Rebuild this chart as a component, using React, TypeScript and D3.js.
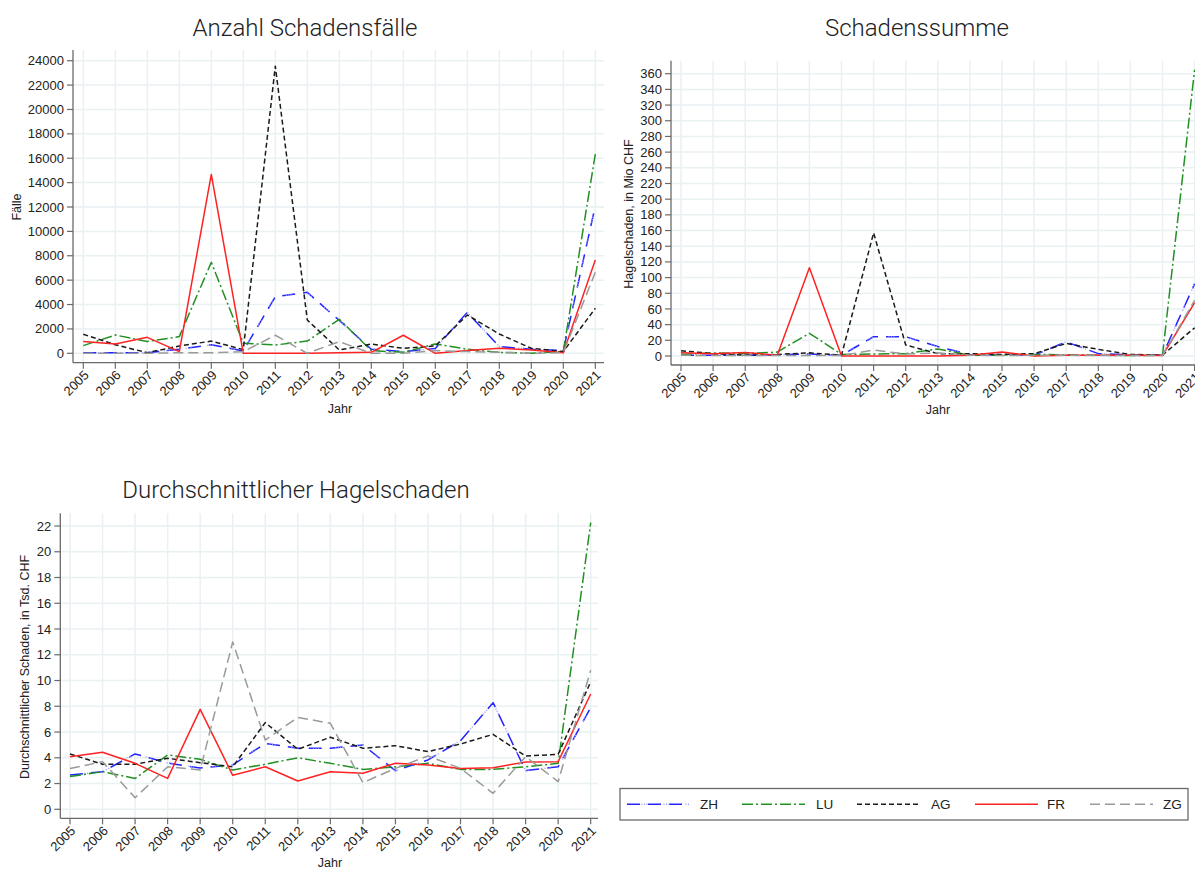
import React from "react";
import * as d3 from "d3";

const years = [2005, 2006, 2007, 2008, 2009, 2010, 2011, 2012, 2013, 2014, 2015, 2016, 2017, 2018, 2019, 2020, 2021];
const cantons = ["ZH", "LU", "AG", "FR", "ZG"];

const faelleZH = [50, 50, 50, 330, 700, 200, 4640, 5000, 2700, 330, 140, 400, 3360, 550, 330, 220, 12100];
const faelleLU = [630, 1500, 960, 1370, 7460, 820, 680, 1000, 2790, 220, 80, 770, 330, 80, 0, 140, 16340];
const faelleAG = [1560, 700, 50, 600, 1000, 300, 23550, 2730, 270, 760, 410, 600, 3140, 1580, 410, 140, 3690];
const faelleFR = [960, 770, 1310, 140, 14670, 0, 0, 0, 50, 80, 1480, 0, 220, 410, 270, 50, 7650];
const faelleZG = [0, 0, 0, 50, 50, 130, 1480, 0, 960, 0, 0, 220, 140, 80, 0, 50, 6640];

const summeZH = [1, 1, 1, 1.5, 2.5, 1, 24.6, 24.6, 12, 2, 1, 1, 18, 3, 1.5, 1, 92];
const summeLU = [2, 4, 3, 5, 29, 2, 2.5, 3, 9, 1, 1, 2, 1.5, 1, 0.5, 1, 365];
const summeAG = [6.8, 3, 1, 2, 4, 1, 157, 14, 3, 3, 2, 3, 16, 8.5, 2, 1, 36];
const summeFR = [4, 3, 4.5, 1, 112.6, 0, 0, 0, 0, 1, 5, 0, 1, 1, 1, 0.5, 68];
const summeZG = [1, 0.5, 0.5, 0.5, 0.5, 0.5, 7.6, 2.5, 4, 1, 0.5, 1, 1, 0.5, 0.5, 0.5, 71];

const avgZH = [2.67, 2.92, 4.3, 3.6, 3.2, 3.45, 5.12, 4.74, 4.74, 5.0, 3.0, 3.83, 5.33, 8.28, 3.0, 3.3, 7.9];
const avgLU = [2.54, 2.92, 2.4, 4.22, 3.88, 3.05, 3.5, 4.0, 3.57, 3.1, 3.3, 3.57, 3.1, 3.1, 3.3, 3.57, 22.26];
const avgAG = [4.3, 3.5, 3.5, 3.96, 3.62, 3.3, 6.73, 4.66, 5.6, 4.74, 4.94, 4.48, 5.07, 5.82, 4.14, 4.27, 9.9];
const avgFR = [4.09, 4.43, 3.57, 2.4, 7.76, 2.64, 3.3, 2.2, 2.92, 2.8, 3.57, 3.44, 3.16, 3.23, 3.67, 3.7, 8.95];
const avgZG = [3.16, 3.7, 0.9, 3.3, 3.05, 13.0, 5.38, 7.14, 6.68, 2.07, 3.18, 4.14, 3.18, 1.24, 4.09, 2.15, 10.8];

const ticksFaelle = d3.range(0, 24001, 2000);
const ticksSumme = d3.range(0, 361, 20);
const ticksAvg = d3.range(0, 23, 2);

type Stroke = { color: string; dash: string };
const styles: Record<string, Stroke[]> = {
  ZH: [
    { color: "#2424ff", dash: "13,8" },
    { color: "#9a9aff", dash: "0,14.5,1,1.5,1,1.5,1,1.5" },
  ],
  LU: [{ color: "#229022", dash: "11,3,2,3" }],
  AG: [{ color: "#1a1a1a", dash: "5,3" }],
  FR: [{ color: "#ff2222", dash: "" }],
  ZG: [{ color: "#9a9a9a", dash: "10,5" }],
};

const TICK_FONT = "'Liberation Sans', Arial, sans-serif";
const TITLE_FONT = "Roboto, 'Open Sans', sans-serif";

type PanelProps = {
  title: string;
  titleX: number;
  titleY: number;
  yTitle: string;
  yTitleX: number;
  yTitleY: number;
  xTitleX: number;
  xTitleY: number;
  axisX: number;
  top: number;
  axisY: number;
  right: number;
  x0: number;
  x1: number;
  y0: number;
  yTop: number;
  yTopVal: number;
  ticks: number[];
  series: number[][];
};

function Panel(p: PanelProps) {
  const x = d3.scaleLinear().domain([years[0], years[years.length - 1]]).range([p.x0, p.x1]);
  const y = d3.scaleLinear().domain([0, p.yTopVal]).range([p.y0, p.yTop]);
  const line = d3
    .line<number>()
    .x((_, i) => x(years[i]))
    .y((v) => y(v));
  const grid = "#e9f1f3";
  const axisCol = "#6a6a6a";
  return (
    <g>
      <text x={p.titleX} y={p.titleY} textAnchor="middle" fontFamily={TITLE_FONT} fontWeight={300} fontSize={24} fill="#222">
        {p.title}
      </text>
      {years.map((yr) => (
        <line key={"vg" + yr} x1={x(yr)} x2={x(yr)} y1={p.top} y2={p.axisY} stroke={grid} strokeWidth={1.5} />
      ))}
      {p.ticks.map((t) => (
        <line key={"hg" + t} x1={p.axisX} x2={p.right} y1={y(t)} y2={y(t)} stroke={grid} strokeWidth={1.5} />
      ))}
      <line x1={p.axisX} x2={p.axisX} y1={p.top} y2={p.axisY} stroke={axisCol} strokeWidth={1.3} />
      <line x1={p.axisX} x2={p.right} y1={p.axisY} y2={p.axisY} stroke={axisCol} strokeWidth={1.3} />
      {p.ticks.map((t) => (
        <g key={"yt" + t}>
          <line x1={p.axisX - 6} x2={p.axisX} y1={y(t)} y2={y(t)} stroke={axisCol} strokeWidth={1.2} />
          <text x={p.axisX - 9} y={y(t)} dy="0.35em" textAnchor="end" fontFamily={TICK_FONT} fontSize={13} fill="#222">
            {t}
          </text>
        </g>
      ))}
      {years.map((yr) => (
        <g key={"xt" + yr}>
          <line x1={x(yr)} x2={x(yr)} y1={p.axisY} y2={p.axisY + 6} stroke={axisCol} strokeWidth={1.2} />
          <text
            transform={`translate(${x(yr) + 3},${p.axisY + 10}) rotate(-45)`}
            dy="0.35em"
            textAnchor="end"
            fontFamily={TICK_FONT}
            fontSize={13}
            fill="#222"
          >
            {yr}
          </text>
        </g>
      ))}
      <text
        transform={`translate(${p.yTitleX},${p.yTitleY}) rotate(-90)`}
        dy="0.35em"
        textAnchor="middle"
        fontFamily={TICK_FONT}
        fontSize={12.5}
        fill="#222"
      >
        {p.yTitle}
      </text>
      <text x={p.xTitleX} y={p.xTitleY} dy="0.35em" textAnchor="middle" fontFamily={TICK_FONT} fontSize={12.5} fill="#222">
        Jahr
      </text>
      {p.series.map((s, i) =>
        styles[cantons[i]].map((st, j) => (
          <path
            key={"s" + i + "-" + j}
            d={line(s) || ""}
            fill="none"
            stroke={st.color}
            strokeWidth={1.5}
            strokeDasharray={st.dash || undefined}
            strokeLinejoin="round"
          />
        ))
      )}
    </g>
  );
}

export default function App() {
  const legendX = [627, 742, 857, 975, 1090];
  const legendLabelX = [700, 816, 931, 1047, 1163];
  return (
    <svg
      width={1195}
      height={869}
      style={{ position: "absolute", left: 0, top: 0, background: "#fff" }}
    >
      <rect width={1195} height={869} fill="#fff" />
      <Panel
        title="Anzahl Schadensfälle"
        titleX={305}
        titleY={36}
        yTitle="Fälle"
        yTitleX={17}
        yTitleY={207}
        xTitleX={340}
        xTitleY={409}
        axisX={73}
        top={50}
        axisY={362.7}
        right={604}
        x0={83.3}
        x1={595.3}
        y0={353.3}
        yTop={60.7}
        yTopVal={24000}
        ticks={ticksFaelle}
        series={[faelleZH, faelleLU, faelleAG, faelleFR, faelleZG]}
      />
      <Panel
        title="Schadenssumme"
        titleX={917}
        titleY={36}
        yTitle="Hagelschaden, in Mio CHF"
        yTitleX={629}
        yTitleY={214}
        xTitleX={938}
        xTitleY={410}
        axisX={671}
        top={60.7}
        axisY={365}
        right={1203}
        x0={681}
        x1={1194.6}
        y0={356}
        yTop={73.7}
        yTopVal={360}
        ticks={ticksSumme}
        series={[summeZH, summeLU, summeAG, summeFR, summeZG]}
      />
      <Panel
        title="Durchschnittlicher Hagelschaden"
        titleX={296}
        titleY={498}
        yTitle="Durchschnittlicher Schaden, in Tsd. CHF"
        yTitleX={25}
        yTitleY={667}
        xTitleX={330}
        xTitleY={863}
        axisX={60.3}
        top={513.3}
        axisY={818.3}
        right={598}
        x0={70}
        x1={590.7}
        y0={809.3}
        yTop={526}
        yTopVal={22}
        ticks={ticksAvg}
        series={[avgZH, avgLU, avgAG, avgFR, avgZG]}
      />
      <rect x={620} y={788.5} width={568} height={31.5} fill="#fff" stroke="#6a6a6a" strokeWidth={1.3} />
      {cantons.map((c, i) => (
        <g key={"lg" + c}>
          {styles[c].map((st, j) => (
            <line
              key={j}
              x1={legendX[i]}
              x2={legendX[i] + 63}
              y1={804.3}
              y2={804.3}
              stroke={st.color}
              strokeWidth={1.5}
              strokeDasharray={st.dash || undefined}
            />
          ))}
          <text x={legendLabelX[i]} y={804.3} dy="0.35em" fontFamily={TICK_FONT} fontSize={13.5} fill="#222">
            {c}
          </text>
        </g>
      ))}
    </svg>
  );
}
